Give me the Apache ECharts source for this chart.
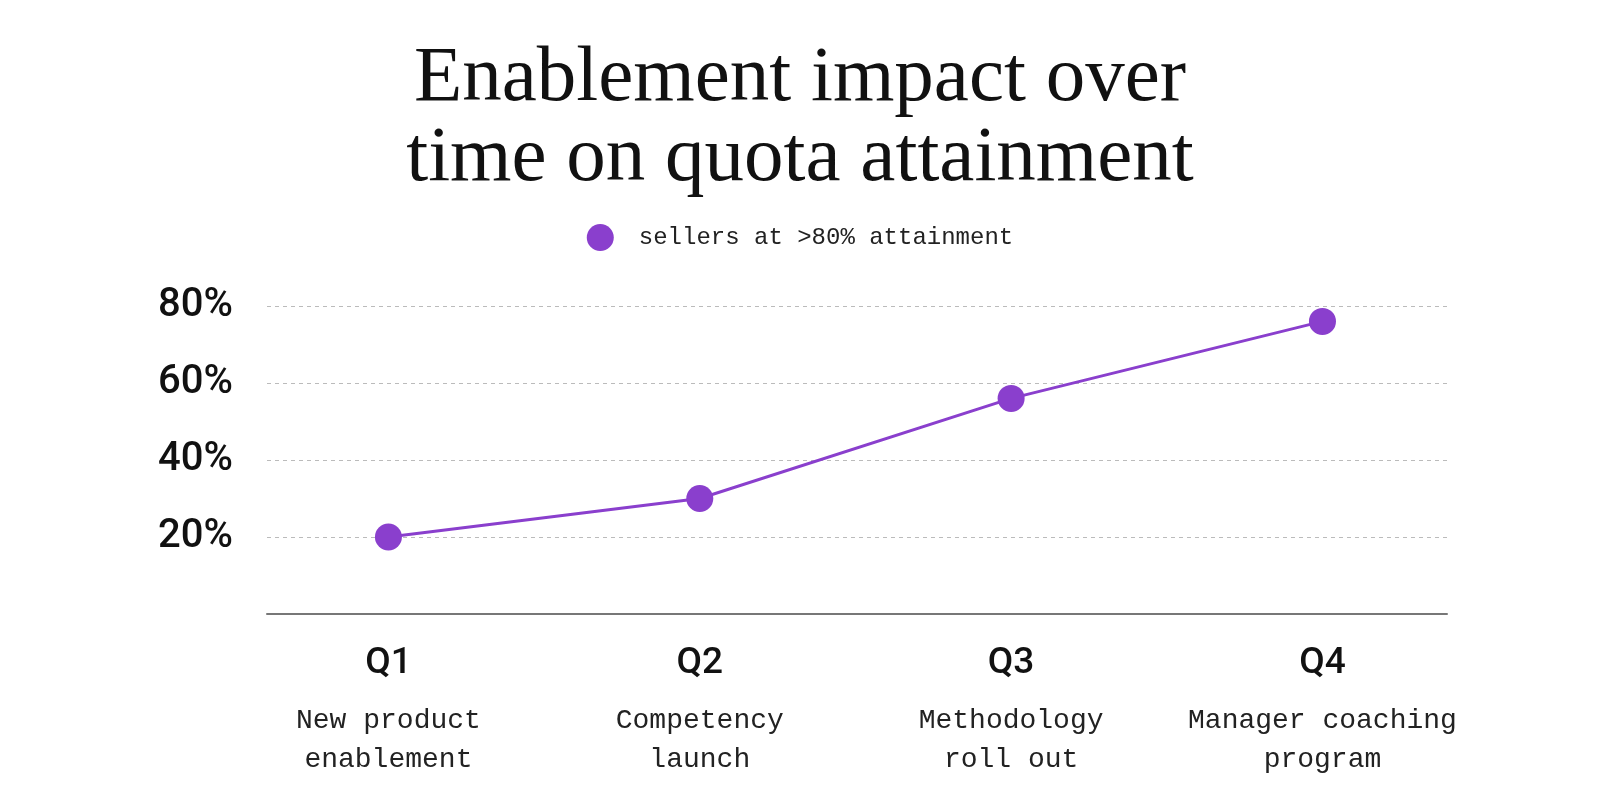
<!DOCTYPE html>
<html>
<head>
<meta charset="utf-8">
<title>Enablement impact</title>
<script src="https://cdn.jsdelivr.net/npm/echarts@6/dist/echarts.min.js"></script>
<style>
  html, body { margin: 0; padding: 0; background: #fff; }
  #chart { width: 1600px; height: 811px; }
</style>
</head>
<body>
<div id="chart"></div>
<script>
// data
const quarters = ['Q1', 'Q2', 'Q3', 'Q4']
const programs = [
  ['New product', 'enablement'],
  ['Competency', 'launch'],
  ['Methodology', 'roll out'],
  ['Manager coaching', 'program']
]
const sellersAbove80 = [20, 30, 56, 76]
const yTicks = [0, 20, 40, 60, 80]

const purple = '#8a3fcd'

const chart = echarts.init(document.getElementById('chart'))

const option = {
  backgroundColor: '#fff',
  animation: false,
  title: {
    text: 'Enablement impact over\ntime on quota attainment',
    left: 'center',
    top: 34,
    textStyle: {
      fontFamily: 'Liberation Serif',
      fontWeight: 'normal',
      fontSize: 79,
      lineHeight: 80,
      color: '#111'
    }
  },
  legend: {
    top: 219,
    left: 'center',
    icon: 'circle',
    itemWidth: 27,
    itemHeight: 27,
    textStyle: {
      fontFamily: 'Liberation Mono',
      fontSize: 24,
      color: '#222',
      padding: [0, 0, 0, 20]
    },
    data: ['sellers at >80% attainment']
  },
  grid: {
    left: 267,
    right: 153,
    top: 306,
    bottom: 197
  },
  xAxis: {
    type: 'value',
    min: -0.39,
    max: 3.40,
    splitLine: { show: false },
    axisTick: { show: false },
    axisLine: { show: true, lineStyle: { color: '#777', width: 2 } },
    axisLabel: {
      customValues: quarters.map((q, i) => i),
      margin: 12,
      formatter: function (v) {
        const i = Math.round(v)
        return '{q|' + quarters[i] + '}\n{d|' + programs[i][0] + '}\n{d|' + programs[i][1] + '}'
      },
      rich: {
        q: {
          fontFamily: 'Roboto',
          fontWeight: 500,
          fontSize: 37,
          lineHeight: 75,
          color: '#111',
          align: 'center'
        },
        d: {
          fontFamily: 'Liberation Mono',
          fontSize: 28,
          lineHeight: 39,
          color: '#222',
          align: 'center'
        }
      }
    }
  },
  yAxis: {
    type: 'value',
    min: 0,
    max: 80,
    interval: 20,
    axisLine: { show: false },
    axisTick: { show: false },
    splitLine: {
      show: true,
      lineStyle: { color: '#bbb', width: 1, type: [4, 4] }
    },
    axisLabel: {
      margin: 34,
      padding: [8, 0, 0, 0],
      fontFamily: 'Roboto',
      fontWeight: 500,
      fontSize: 40,
      color: '#111',
      formatter: function (v) {
        return yTicks.indexOf(v) > 0 ? v + '%' : ''
      }
    }
  },
  series: [
    {
      name: 'sellers at >80% attainment',
      type: 'line',
      data: sellersAbove80.map((v, i) => [i, v]),
      symbol: 'circle',
      symbolSize: 27,
      lineStyle: { color: purple, width: 3 },
      itemStyle: { color: purple }
    }
  ]
}

chart.setOption(option)
</script>
</body>
</html>
